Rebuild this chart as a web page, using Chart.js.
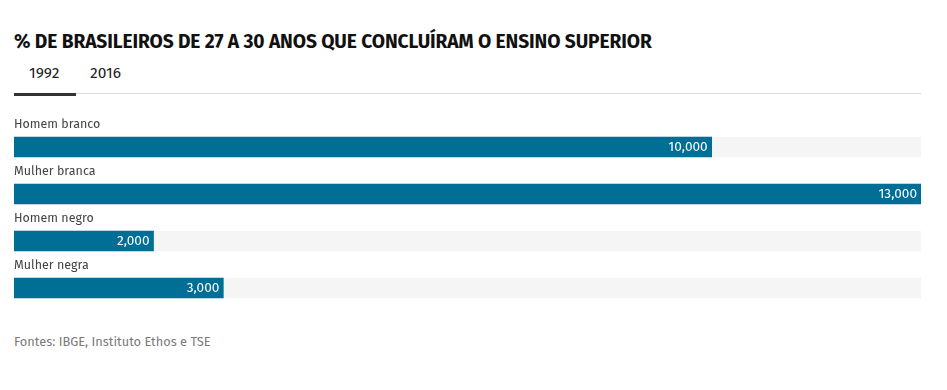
<!DOCTYPE html>
<html><head><meta charset="utf-8">
<script src="https://cdn.jsdelivr.net/npm/chart.js@4"></script>
<style>
html,body{margin:0;padding:0;background:#fff;width:947px;height:390px;overflow:hidden;font-family:"Fira Sans","Noto Sans","Open Sans",sans-serif;}
#title{position:absolute;left:14px;top:30px;font-size:19.2px;font-weight:bold;color:#111;white-space:nowrap;letter-spacing:-0.1px}
.tab{position:absolute;top:64px;font-size:15.5px;color:#222}
#line{position:absolute;left:14px;top:93px;width:907px;height:1px;background:#dcdcdc}
#uline{position:absolute;left:14px;top:93px;width:62px;height:3px;background:#333}
#wrap{position:absolute;left:14px;top:100px;width:907px;height:220px}
#foot{position:absolute;left:14px;top:334px;font-size:12.8px;color:#7a7a7a}
</style></head>
<body>
<div id="title">% DE BRASILEIROS DE 27 A 30 ANOS QUE CONCLUÍRAM O ENSINO SUPERIOR</div>
<div class="tab" style="left:29px">1992</div>
<div class="tab" style="left:90px">2016</div>
<div id="line"></div><div id="uline"></div>
<div id="wrap"><canvas id="c"></canvas></div>
<div id="foot">Fontes: IBGE, Instituto Ethos e TSE</div>
<script>
const categories = ["Homem branco","Mulher branca","Homem negro","Mulher negra"];
const values1992 = [10, 13, 2, 3];
const trackValues = [13, 13, 13, 13];
const axisMax = 13;

const labelPlugin = {
  id:'labels',
  afterDatasetsDraw(chart){
    const ctx = chart.ctx;
    const meta = chart.getDatasetMeta(0);
    ctx.save();
    meta.data.forEach((bar,i)=>{
      const top = bar.y - bar.height/2;
      ctx.font = '12.5px "Fira Sans","Noto Sans","Open Sans",sans-serif';
      ctx.fillStyle = '#444';
      ctx.textAlign = 'left';
      ctx.textBaseline = 'middle';
      ctx.fillText(categories[i], chart.chartArea.left, top - 12);
      ctx.fillStyle = '#fff';
      ctx.textAlign = 'right';
      ctx.font = '13.6px "Fira Sans","Noto Sans","Open Sans",sans-serif';
      ctx.fillText(values1992[i].toFixed(3).replace('.', ','), bar.x - 4, bar.y + 0.5);
    });
    ctx.restore();
  }
};

new Chart(document.getElementById('c'), {
  type:'bar',
  data:{
    labels: categories,
    datasets:[
      {data: values1992, backgroundColor:'#006e95', barThickness:20, grouped:false, order:0},
      {data: trackValues, backgroundColor:'#f5f5f5', barThickness:20, grouped:false, order:1}
    ]
  },
  options:{
    indexAxis:'y',
    responsive:true,
    maintainAspectRatio:false,
    animation:false,
    layout:{padding:{top:23.5,bottom:8.5,left:0,right:0}},
    plugins:{legend:{display:false},tooltip:{enabled:false}},
    scales:{
      x:{display:false,min:0,max:axisMax},
      y:{display:false}
    }
  },
  plugins:[labelPlugin]
});
</script>
</body></html>
